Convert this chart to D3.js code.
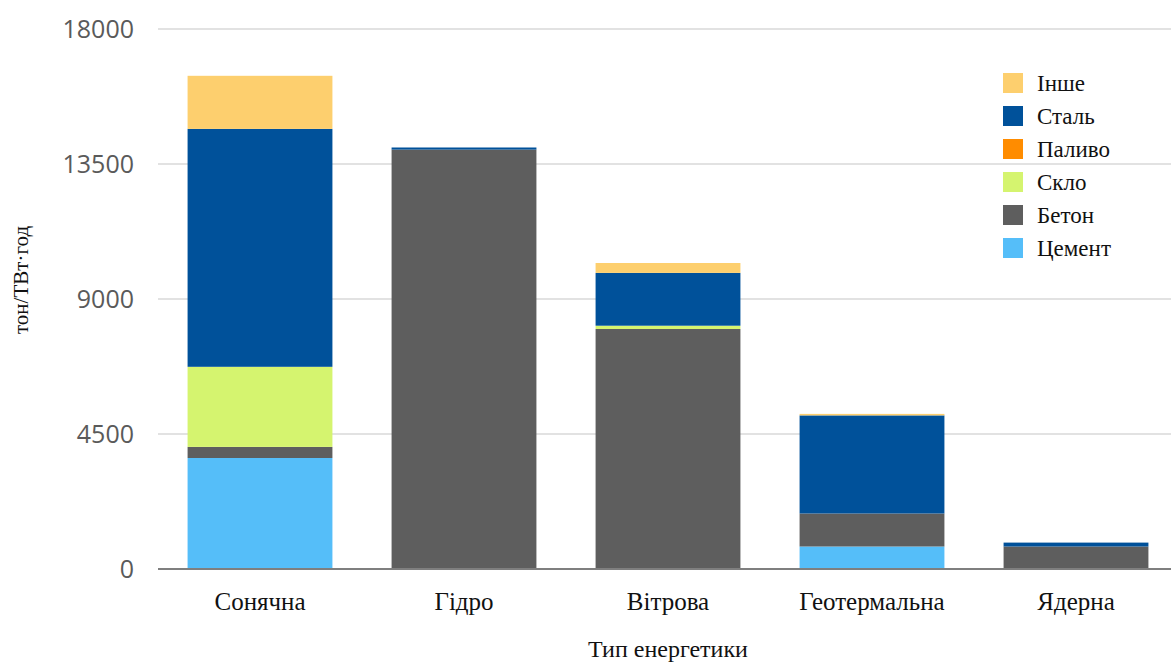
<!DOCTYPE html>
<html>
<head>
<meta charset="utf-8">
<script src="https://cdn.jsdelivr.net/npm/d3@7"></script>
<style>
  html, body { margin: 0; padding: 0; background: #fff; }
  svg { display: block; }
</style>
</head>
<body>
<svg id="chart" width="1171" height="664"></svg>
<script>
// ---- data ----
const categories = ["Сонячна", "Гідро", "Вітрова", "Геотермальна", "Ядерна"];
const seriesNames = ["Цемент", "Бетон", "Скло", "Паливо", "Сталь", "Інше"]; // bottom -> top
const cement   = [3700,    0,    0,  750,   0];
const concrete = [ 370, 13980, 8000, 1100, 750];
const glass    = [2670,    0,  110,    0,   0];
const fuel     = [   0,    0,    0,    0,   0];
const steel    = [7930,   70, 1760, 3270, 130];
const other    = [1770,    0,  330,   50,   0];
const yTicks   = [0, 4500, 9000, 13500, 18000];
const colors   = ["#55BEF9", "#5E5E5E", "#D5F46F", "#FF8C00", "#00519A", "#FDCF6E"];
const legendOrder = ["Інше", "Сталь", "Паливо", "Скло", "Бетон", "Цемент"];

const seriesValues = [cement, concrete, glass, fuel, steel, other];
const rows = categories.map((c, i) => {
  const r = { category: c };
  seriesNames.forEach((s, k) => r[s] = seriesValues[k][i]);
  return r;
});

// ---- layout ----
const svg = d3.select("#chart");
const x = d3.scaleBand().domain(categories).range([158, 1178]).paddingInner(0.29).paddingOuter(0.145);
const y = d3.scaleLinear().domain([0, 18000]).range([569, 29]);
const color = d3.scaleOrdinal().domain(seriesNames).range(colors);

// gridlines
svg.append("g").selectAll("line").data(yTicks.filter(t => t !== 0)).join("line")
  .attr("x1", 158).attr("x2", 1178)
  .attr("y1", d => y(d)).attr("y2", d => y(d))
  .attr("stroke", "#d9d9d9").attr("stroke-width", 1.5);

// y axis labels
const yAxis = d3.axisLeft(y).tickValues(yTicks).tickSize(0).tickPadding(0).tickFormat(d3.format("d"));
const yg = svg.append("g").attr("transform", "translate(134,0)").call(yAxis);
yg.select(".domain").remove();
yg.selectAll("text")
  .attr("font-family", "'Open Sans', sans-serif")
  .attr("font-size", 25)
  .attr("fill", "#5a5a5a")
  .attr("dy", "0.34em");

// stacked bars
const stack = d3.stack().keys(seriesNames);
const stacked = stack(rows);
svg.append("g").selectAll("g").data(stacked).join("g")
  .attr("fill", d => color(d.key))
  .selectAll("rect").data(d => d).join("rect")
  .attr("x", d => x(d.data.category))
  .attr("width", x.bandwidth())
  .attr("y", d => y(d[1]))
  .attr("height", d => Math.max(0, y(d[0]) - y(d[1])));

// baseline axis
const xAxis = d3.axisBottom(x).tickSize(0).tickPadding(0);
const xg = svg.append("g").attr("transform", `translate(0,${y(0)})`).call(xAxis);
xg.select(".domain").attr("stroke", "#7f7f7f").attr("stroke-width", 2)
  .attr("d", "M158,0H1178");
xg.selectAll("text")
  .attr("font-family", "'Liberation Serif', 'Times New Roman', serif")
  .attr("font-size", 25)
  .attr("fill", "#111")
  .attr("y", 41)
  .attr("dy", "0");

// axis titles
svg.append("text")
  .attr("x", 668).attr("y", 657)
  .attr("text-anchor", "middle")
  .attr("font-family", "'Liberation Serif', 'Times New Roman', serif")
  .attr("font-size", 24).attr("fill", "#111")
  .text("Тип енергетики");

svg.append("text")
  .attr("transform", "translate(28,280) rotate(-90)")
  .attr("text-anchor", "middle")
  .attr("font-family", "'Liberation Serif', 'Times New Roman', serif")
  .attr("font-size", 21).attr("fill", "#111")
  .text("тон/ТВт·год");

// legend
const legend = svg.append("g").attr("transform", "translate(1003,73)");
const li = legend.selectAll("g").data(legendOrder).join("g")
  .attr("transform", (d, i) => `translate(0,${i * 33})`);
li.append("rect").attr("width", 20).attr("height", 20).attr("fill", d => color(d));
li.append("text")
  .attr("x", 34).attr("y", 10).attr("dy", "0.35em")
  .attr("font-family", "'Liberation Serif', 'Times New Roman', serif")
  .attr("font-size", 23).attr("fill", "#111")
  .text(d => d);
</script>
</body>
</html>
